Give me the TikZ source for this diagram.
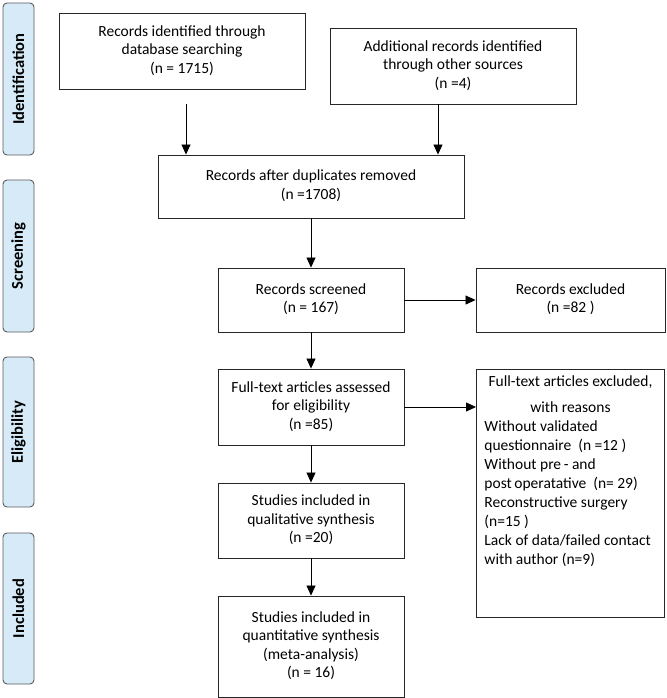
\documentclass[tikz,border=0pt]{standalone}
\usepackage{fontspec}
\setmainfont{Carlito}
\usetikzlibrary{arrows.meta}
\definecolor{phasefill}{RGB}{214,234,248}
\definecolor{phaseline}{RGB}{90,90,90}
\newcommand{\boxlines}[1]{\begin{tabular}{@{}c@{}}#1\end{tabular}}
\tikzset{
	box/.style={draw=black!85, line width=0.9pt, inner sep=4pt,
		font=\fontsize{15.5}{18.5}\selectfont},
	phase/.style={draw=phaseline, fill=phasefill, rounded corners=4pt, line width=0.9pt,
		rotate=90, minimum height=31pt, font=\fontsize{16.5}{18}\selectfont\bfseries},
	arr/.style={-{Triangle[length=10pt,width=9pt]}, line width=0.8pt}
}
\begin{document}
\begin{tikzpicture}[x=1pt, y=-1pt]
	\useasboundingbox (0, 0) rectangle (666, 698);
	% phases
	\node[phase, minimum width=152pt] at (18.5, 79) (ident) {Identification};
	\node[phase, minimum width=152pt] at (18.5, 256) (screen) {Screening};
	\node[phase, minimum width=150pt] at (18.5, 432) (elig) {Eligibility};
	\node[phase, minimum width=151pt] at (18.5, 608.5) (incl) {Included};
	% boxes
	\node[box, minimum width=246pt, minimum height=76pt] at (182, 51) (db) {\boxlines{Records identified through\\database searching\\(n = 1715)}};
	\node[box, minimum width=246pt, minimum height=76pt] at (453, 66) (other) {\boxlines{Additional records identified\\through other sources\\(n =4)}};
	\node[box, minimum width=306pt, minimum height=63pt] at (311, 186.5) (dup) {\boxlines{Records after duplicates removed\\(n =1708)}};
	\node[box, minimum width=186pt, minimum height=64pt] at (311, 300) (screened) {\boxlines{Records screened\\(n = 167)}};
	\node[box, minimum width=189pt, minimum height=64pt] at (570.5, 300) (excl) {\boxlines{Records excluded\\(n =82 )}};
	\node[box, minimum width=186pt, minimum height=76pt] at (311, 407) (full) {\boxlines{Full-text articles assessed\\for eligibility\\(n =85)}};
	\node[box, minimum width=186pt, minimum height=75pt] at (311, 520.5) (qual) {\boxlines{Studies included in\\qualitative synthesis\\(n =20)}};
	\node[box, minimum width=186pt, minimum height=101pt] at (311, 646.5) (quant) {\boxlines{Studies included in\\quantitative synthesis\\(meta-analysis)\\(n = 16)}};
	\node[box, anchor=north west, text width=172pt, inner xsep=8pt, inner ysep=6pt,
		font=\fontsize{15.5}{19}\selectfont] at (476, 369) (reasons) {\spaceskip=0pt\xspaceskip=0pt
		\centering Full-text articles excluded,\\[7pt]with reasons\par
		\raggedright Without validated\\questionnaire\ \ (n =12 )\\Without pre\,- and\\post\,operatative\ \ (n= 29)\\Reconstructive surgery\\(n=15 )\\Lack of data/failed contact\\with author (n=9)\par\rule{0pt}{44pt}};
	% arrows
	\coordinate (dbout) at (186, 104);
	\coordinate (otherout) at (438, 104);
	\draw[arr] (dbout) -- (dbout |- dup.north);
	\draw[arr] (otherout) -- (otherout |- dup.north);
	\draw[arr] (dup.south) -- (screened.north);
	\draw[arr] (screened.east) -- (excl.west);
	\draw[arr] (screened.south) -- (full.north);
	\draw[arr] (full.east) -- (full.east -| reasons.west);
	\draw[arr] (full.south) -- (qual.north);
	\draw[arr] (qual.south) -- (quant.north);
\end{tikzpicture}
\end{document}
